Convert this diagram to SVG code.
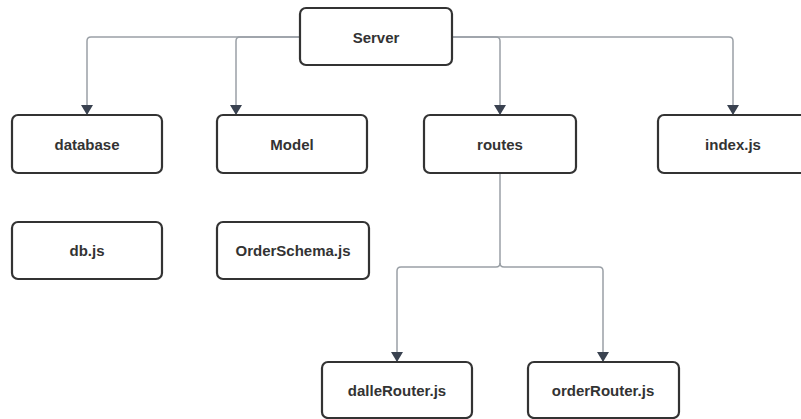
<svg xmlns="http://www.w3.org/2000/svg" width="801" height="419" viewBox="0 0 801 419">
<style>
.box{fill:#fff;stroke:#333;stroke-width:2.2}
.lbl{font-family:"Liberation Sans",Arial,sans-serif;font-weight:bold;font-size:15px;fill:#333;text-anchor:middle;dominant-baseline:central}
.ln{fill:none;stroke:#9aa0a6;stroke-width:1.5}
</style>
<defs>
<marker id="ah" viewBox="0 0 10 12" refX="10" refY="6" markerWidth="10" markerHeight="12" markerUnits="userSpaceOnUse" orient="auto">
<path d="M0,0 L10,6 L0,12 Z" fill="#3a4250"/>
</marker>
</defs>
<rect width="801" height="419" fill="#fff"/>
<g id="connectors">
<path class="ln" d="M300,37 H91 Q87,37 87,41 V115" marker-end="url(#ah)"/>
<path class="ln" d="M300,37 H240 Q236,37 236,41 V115" marker-end="url(#ah)"/>
<path class="ln" d="M452,37 H496 Q500,37 500,41 V115" marker-end="url(#ah)"/>
<path class="ln" d="M452,37 H729 Q733,37 733,41 V115" marker-end="url(#ah)"/>
<path class="ln" d="M500,173 V263 Q500,267 496,267 H401 Q397,267 397,271 V362" marker-end="url(#ah)"/>
<path class="ln" d="M500,263 Q500,267 504,267 H599 Q603,267 603,271 V362" marker-end="url(#ah)"/>
</g>
<g id="server"><rect class="box" x="300" y="8" width="152" height="57" rx="6"/><text class="lbl" x="376" y="37">Server</text></g>
<g id="database"><rect class="box" x="12" y="115" width="150" height="58" rx="6"/><text class="lbl" x="87" y="144">database</text></g>
<g id="model"><rect class="box" x="217" y="115" width="150" height="58" rx="6"/><text class="lbl" x="292" y="144">Model</text></g>
<g id="routes"><rect class="box" x="424" y="115" width="152" height="58" rx="6"/><text class="lbl" x="500" y="144">routes</text></g>
<g id="index"><rect class="box" x="658" y="115" width="150" height="58" rx="6"/><text class="lbl" x="733" y="144">index.js</text></g>
<g id="db"><rect class="box" x="12" y="222" width="150" height="57" rx="6"/><text class="lbl" x="87" y="250">db.js</text></g>
<g id="orderschema"><rect class="box" x="217" y="222" width="152" height="57" rx="6"/><text class="lbl" x="293" y="250">OrderSchema.js</text></g>
<g id="dallerouter"><rect class="box" x="322" y="362" width="150" height="56" rx="6"/><text class="lbl" x="397" y="390">dalleRouter.js</text></g>
<g id="orderrouter"><rect class="box" x="528" y="362" width="151" height="56" rx="6"/><text class="lbl" x="603" y="390">orderRouter.js</text></g>
</svg>
